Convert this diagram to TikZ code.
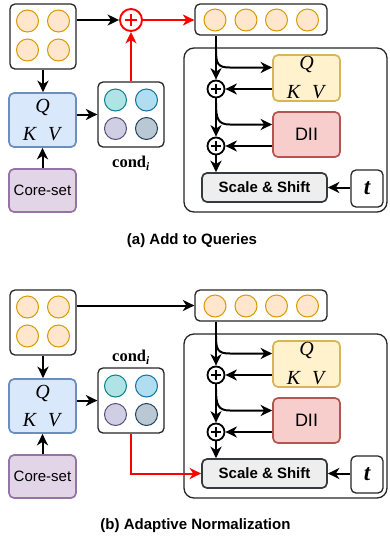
\documentclass[tikz,border=0pt]{standalone}
\usepackage{fontspec}
\setmainfont{Liberation Serif}
\setsansfont{Liberation Sans}
\usetikzlibrary{arrows.meta,calc}
\definecolor{orangeF}{HTML}{FFE6CC}\definecolor{orangeD}{HTML}{D79B00}
\definecolor{blueF}{HTML}{DAE8FC}\definecolor{blueD}{HTML}{6C8EBF}
\definecolor{purpF}{HTML}{E1D5E7}\definecolor{purpD}{HTML}{9673A6}
\definecolor{yelF}{HTML}{FFF2CC}\definecolor{yelD}{HTML}{D6B656}
\definecolor{redF}{HTML}{F8CECC}\definecolor{redD}{HTML}{B85450}
\definecolor{greyF}{HTML}{EEEEEE}\definecolor{greyD}{HTML}{36393D}
\definecolor{cAF}{HTML}{B0E3E6}\definecolor{cAD}{HTML}{0E8088}
\definecolor{cBF}{HTML}{B1DDF0}\definecolor{cBD}{HTML}{10739E}
\definecolor{cCF}{HTML}{D0CEE2}\definecolor{cCD}{HTML}{56517E}
\definecolor{cDF}{HTML}{BAC8D3}\definecolor{cDD}{HTML}{23445D}
\definecolor{redL}{HTML}{FF0000}
\tikzset{
  frame/.style={draw=black!85, line width=1.3pt, rounded corners=5pt, fill=white, inner sep=0pt},
  colbox/.style 2 args={draw=#2, fill=#1, line width=1.7pt, rounded corners=5pt, inner sep=0pt},
  dot/.style 2 args={circle, draw=#2, fill=#1, line width=1pt, minimum size=22pt, inner sep=0pt},
  arr/.style={line width=2pt, -{Stealth[length=11.5pt,width=11pt,inset=3.5pt]}},
  redarr/.style={arr, draw=redL},
  bplus/.style={circle, draw, line width=1.8pt, fill=white, minimum size=17pt, inner sep=0pt,
    path picture={\draw[line width=2.2pt] ([xshift=-5pt]path picture bounding box.center) -- ([xshift=5pt]path picture bounding box.center) ([yshift=-5pt]path picture bounding box.center) -- ([yshift=5pt]path picture bounding box.center);}},
  rplus/.style={circle, draw=redL, line width=1.9pt, fill=white, minimum size=22pt, inner sep=0pt,
    path picture={\draw[redL, line width=2.8pt] ([xshift=-6pt]path picture bounding box.center) -- ([xshift=6pt]path picture bounding box.center) ([yshift=-6pt]path picture bounding box.center) -- ([yshift=6pt]path picture bounding box.center);}},
  qkvtext/.style={align=center, font=\fontsize{20}{28}\selectfont},
  sftext/.style={font=\sffamily\fontsize{15}{18}\selectfont},
  sfbold/.style={font=\sffamily\bfseries\fontsize{15}{18}\selectfont},
  condtext/.style={font=\bfseries\fontsize{16.5}{18}\selectfont},
}
\newcommand\qkvstr{\textit{Q}\\\textit{K}\hspace{11pt}\textit{V}}
\newcommand\condstr{cond\textsubscript{\textit{\textbf{i}}}}
\newcommand\panelcommon[1]{%
  % input 2x2 tokens
  \node[frame, minimum width=66pt, minimum height=65pt] (in#1) at (43,36.5) {};
  \foreach \dx/\dy/\k in {-15.5/-15.5/1, 15.5/-15.5/2, -15.5/13.5/3, 15.5/13.5/4}
    \node[dot={orangeF}{orangeD}] (in#1-\k) at ($(in#1.center)+(\dx,\dy)$) {};
  % QKV (blue)
  \node[colbox={blueF}{blueD}, minimum width=67pt, minimum height=54pt, qkvtext] (qkv#1) at (42.5,120) {\qkvstr};
  % core-set
  \node[colbox={purpF}{purpD}, minimum width=67pt, minimum height=43pt, sftext] (core#1) at (42.5,190.5) {Core-set};
  % cond
  \node[frame, minimum width=66pt, minimum height=65pt] (cond#1) at (131,114.5) {};
  \node[dot={cAF}{cAD}] (cond#1-1) at ($(cond#1.center)+(-15.5,-14.5)$) {};
  \node[dot={cBF}{cBD}] (cond#1-2) at ($(cond#1.center)+(15.5,-14.5)$) {};
  \node[dot={cCF}{cCD}] (cond#1-3) at ($(cond#1.center)+(-15.5,14)$) {};
  \node[dot={cDF}{cDD}] (cond#1-4) at ($(cond#1.center)+(15.5,14)$) {};
  % row of tokens
  \node[frame, minimum width=132pt, minimum height=31pt] (row#1) at (261,19.5) {};
  \foreach \dx/\k in {-46/1, -15/2, 15.5/3, 46.5/4}
    \node[dot={orangeF}{orangeD}] (row#1-\k) at ($(row#1.center)+(\dx,0.5)$) {};
  % big block
  \node[frame, rounded corners=10pt, minimum width=203pt, minimum height=164pt] (big#1) at (285.5,130) {};
  \node[colbox={yelF}{yelD}, minimum width=67pt, minimum height=46pt, qkvtext, font=\fontsize{20}{29}\selectfont] (qkvb#1) at (306.5,78) {\qkvstr};
  \node[colbox={redF}{redD}, minimum width=67pt, minimum height=45pt, font=\sffamily\fontsize{18}{20}\selectfont] (dii#1) at (306.5,134.5) {DII};
  \node[colbox={greyF}{greyD}, minimum width=125pt, minimum height=29pt, sfbold] (ss#1) at (264.5,187.5) {Scale \& Shift};
  \node[frame, minimum width=32pt, minimum height=37pt, font=\bfseries\itshape\fontsize{23}{24}\selectfont] (t#1) at (367,188.5) {t};
  \node[bplus] (pa#1) at (216,89) {};
  \node[bplus] (pb#1) at (216,146) {};
  \coordinate (s1#1) at (216,50);
  \coordinate (k1#1) at (230,67.5);
  \coordinate (s2#1) at (216,103);
  \coordinate (k2#1) at (230,124.5);
  % connectors
  \draw[arr] (in#1.south) -- (in#1.south |- qkv#1.north);
  \draw[arr] (core#1.north) -- (qkv#1.south);
  \draw[arr] (qkv#1.east |- cond#1) -- (cond#1.west);
  \draw[arr] (row#1.south -| pa#1) -- (pa#1.north);
  \draw[arr] (pa#1.south) -- (pb#1.north);
  \draw[arr] (pb#1.south) -- (pb#1.south |- ss#1.north);
  \draw[arr] (s1#1) .. controls +(0,14) and +(-12,0) .. (k1#1) -- (qkvb#1.west |- k1#1);
  \draw[arr] (s2#1) .. controls +(0,16) and +(-12,0) .. (k2#1) -- (dii#1.west |- k2#1);
  \draw[arr] (qkvb#1.west |- pa#1) -- (pa#1.east);
  \draw[arr] (dii#1.west |- pb#1) -- (pb#1.east);
  \draw[arr] (t#1.west |- ss#1) -- (ss#1.east);
}
\begin{document}
\begin{tikzpicture}[x=1pt, y=-1pt]
  \useasboundingbox (0,0) rectangle (390,539);
  % ---------- panel (a)
  \panelcommon{A}
  \node[rplus] (plusA) at (131,20) {};
  \node[condtext] (condlblA) at (131,163) {\condstr};
  \draw[arr] (inA.east |- plusA) -- (plusA.west);
  \draw[redarr] (condA.north) -- (plusA.south);
  \draw[redarr] (plusA.east) -- (rowA.west |- plusA);
  \node[sfbold] (capA) at (192,241) {(a) Add to Queries};
  % ---------- panel (b)
  \begin{scope}[yshift=-286pt]
    \panelcommon{B}
    \node[condtext] (condlblB) at (131,71) {\condstr};
    \draw[arr] (inB.east |- rowB) -- (rowB.west);
    \draw[redarr] (condB.south) |- (ssB.west);
  \end{scope}
  \node[sfbold] (capB) at (195.5,526) {(b) Adaptive Normalization};
\end{tikzpicture}
\end{document}
